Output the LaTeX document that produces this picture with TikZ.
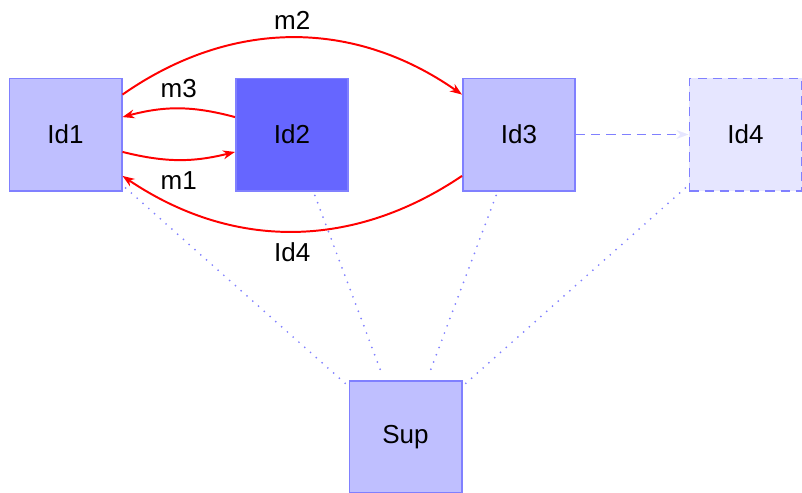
\documentclass[tikz,border=0pt]{standalone}
\usepackage{fontspec}
\setmainfont{Liberation Sans}
\usetikzlibrary{arrows.meta}

\definecolor{boxfill}{RGB}{191,191,255}
\definecolor{boxline}{RGB}{128,128,255}
\definecolor{darkfill}{RGB}{102,102,255}
\definecolor{ghostfill}{RGB}{230,230,255}

\begin{document}
\begin{tikzpicture}[
    x=0.025cm, y=-0.025cm,
    font=\fontsize{18.5}{22}\selectfont,
    box/.style={draw=boxline, line width=1.4pt, fill=boxfill,
                minimum width=2.8cm, minimum height=2.8cm, inner sep=0pt},
    msg/.style={draw=red, line width=1.4pt, -{Stealth[length=0.3cm, width=0.22cm]}},
    link/.style={draw=boxline, line width=1.4pt, line cap=round,
                 dash pattern=on 0pt off 5.5pt, shorten <=3pt, shorten >=3pt}
]
\useasboundingbox (0,0) rectangle (802,493);

%--------
% nodes
%--------
\node[box] (id1) at (65.5, 134.5) {Id1};
\node[box, fill=darkfill] (id2) at (292, 134.5) {Id2};
\node[box] (id3) at (519, 134.5) {Id3};
\node[box, fill=ghostfill, dash pattern=on 6.5pt off 4.3pt] (id4) at (745.5, 134.5) {Id4};
\node[box] (sup) at (405.5, 437) {Sup};

%--------
% supervision links
%--------
\draw[link] (id1) -- (sup);
\draw[link] (id2) -- (sup);
\draw[link] (id3) -- (sup);
\draw[link] (id4) -- (sup);

%--------
% messages
%--------
\draw[msg] (id1.-17) to[bend right=14] node[midway, below=4pt] {m1} (id2.197);
\draw[msg] (id2.163) to[bend right=15] node[midway, above=4pt] {m3} (id1.17);
\draw[msg] (id1.35) to[bend left=35] node[midway, above=2pt] {m2} (id3.145);
\draw[msg] (id3.216) to[bend left=34] node[midway, below=4pt] {Id4} (id1.-36);

% spawn
\draw[draw=boxline, line width=1.4pt, dash pattern=on 6.5pt off 4.3pt,
      -{Stealth[length=0.3cm, width=0.22cm, color=ghostfill]}] (id3) -- (id4);

\end{tikzpicture}
\end{document}
